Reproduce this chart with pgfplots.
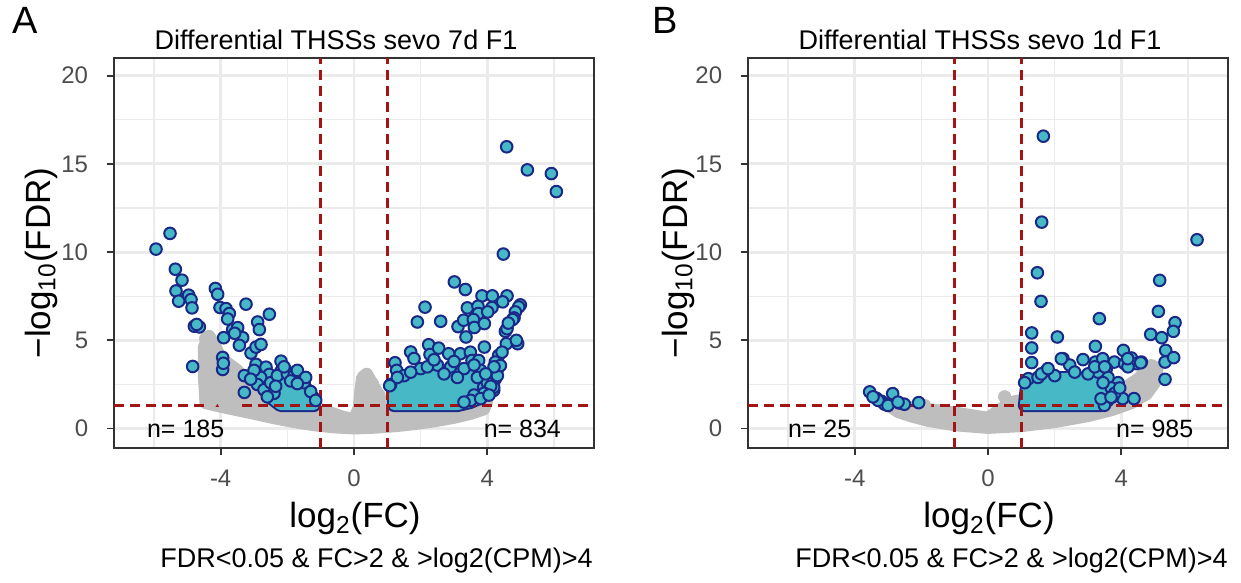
\documentclass[border=0pt]{standalone}
\usepackage{fontspec}
\setmainfont{Liberation Sans}
\usepackage{pgfplots}
\pgfplotsset{compat=1.18}

\definecolor{gridc}{HTML}{EBEBEB}
\definecolor{g20}{HTML}{333333}
\definecolor{g30}{HTML}{4D4D4D}
\definecolor{greypt}{HTML}{BEBEBE}
\definecolor{cyanc}{HTML}{46B8C6}
\definecolor{bluec}{HTML}{1A2888}
\definecolor{redc}{HTML}{A31515}

\tikzset{nlab/.style={font=\fontsize{12.5}{13}\selectfont}}

\pgfplotsset{
  volc/.style={
    width=240pt, height=195pt, scale only axis,
    xmin=-7.2, xmax=7.2, ymin=-1.1, ymax=21,
    xtick={-4,0,4}, ytick={0,5,10,15,20},
    minor xtick={-6,-2,2,6}, minor ytick={2.5,7.5,12.5,17.5},
    grid=both,
    major grid style={draw=gridc, line width=1.4pt},
    minor grid style={draw=gridc, line width=0.7pt},
    tick pos=left, tick align=outside,
    major tick length=3.75pt, minor tick length=0pt,
    tick style={draw=g20, line width=0.9pt},
    axis line style={draw=g20, line width=0.9pt},
    tick label style={font=\fontsize{12}{12}\selectfont, text=g30},
    /pgf/number format/assume math mode=true,
    xticklabel style={anchor=north, inner sep=0pt, yshift=-7pt},
    yticklabel style={anchor=east, inner sep=0pt, xshift=-9pt},
    clip=false,
  },
  greyarea/.style={fill=greypt, draw=greypt, line width=6.2pt, line join=round, line cap=round},
  blobout/.style={fill=bluec, draw=bluec, line width=6.8pt, line join=round, line cap=round},
  blobin/.style={fill=cyanc, draw=cyanc, line width=4.8pt, line join=round, line cap=round},
  sig/.style={only marks, mark=*, mark size=2.9pt, mark options={fill=cyanc, draw=bluec, line width=1pt}},
  cut/.style={redc, line width=1.3pt, dash pattern=on 5pt off 3pt},
}

\begin{document}
\begin{tikzpicture}
\useasboundingbox (0,0) rectangle (620.5pt,291.5pt);

% ---------------- panel A: sevo 7d ----------------
\begin{axis}[volc, at={(57pt,67.5pt)}, anchor=south west]
\addplot[greyarea] coordinates {
(-4.45,1.45) (-4.0,1.25) (-3.5,1.05) (-3.0,0.85) (-2.4,0.6) (-1.8,0.38) (-1.2,0.2) (-0.6,0.08)
(0,0.02) (0.6,0.06) (1.2,0.14) (1.8,0.26) (2.4,0.42) (3.0,0.62) (3.5,0.85) (3.9,1.1) (4.0,1.6)
(3.8,1.95) (3.0,1.6) (2.0,1.4) (1.2,1.2) (0.8,1.6) (0.65,2.2) (0.5,2.7) (0.38,3.1) (0.25,2.9)
(0.2,2.2) (0.15,1.2) (0.0,0.5) (-0.4,0.7) (-1.0,1.1) (-2.0,1.5) (-3.0,2.2) (-3.5,3.3) (-4.0,4.0)
(-4.2,4.8) (-4.35,5.25) (-4.5,4.6) (-4.5,3.0) (-4.45,1.45)};
\addplot[only marks, mark=*, mark size=3.1pt, greypt] coordinates {
(0.75,1.9) (0.55,2.55) (-4.3,1.5) (-3.9,1.5) (-3.6,1.45) (-4.45,5.1)};
% dense clusters of significant loci
\addplot[blobout] coordinates {
(1.2,1.32) (3.1,1.32) (3.5,1.5) (3.85,1.8) (3.95,2.3) (3.85,2.9) (3.5,3.15) (3.0,3.25)
(2.5,3.25) (2.0,3.05) (1.6,2.85) (1.3,2.55) (1.2,2.1) (1.2,1.32)};
\addplot[blobout] coordinates {
(-1.2,1.32) (-2.2,1.32) (-2.6,1.9) (-2.6,2.5) (-2.2,2.85) (-1.7,2.8) (-1.45,2.3) (-1.2,1.7) (-1.2,1.32)};
\addplot[blobin] coordinates {
(1.2,1.32) (3.1,1.32) (3.5,1.5) (3.85,1.8) (3.95,2.3) (3.85,2.9) (3.5,3.15) (3.0,3.25)
(2.5,3.25) (2.0,3.05) (1.6,2.85) (1.3,2.55) (1.2,2.1) (1.2,1.32)};
\addplot[blobin] coordinates {
(-1.2,1.32) (-2.2,1.32) (-2.6,1.9) (-2.6,2.5) (-2.2,2.85) (-1.7,2.8) (-1.45,2.3) (-1.2,1.7) (-1.2,1.32)};
% up
\addplot[sig] coordinates {
(4.58,15.97) (5.20,14.66) (5.92,14.45) (6.07,13.43) (4.48,9.89)
(3.01,8.31) (3.34,7.88) (3.84,7.52) (4.15,7.52) (4.59,7.52) (4.46,7.18) (4.99,7.01) (4.94,6.89)
(2.13,6.88) (3.40,6.84) (3.72,6.93) (4.14,6.86) (4.84,6.61) (4.80,6.27) (3.73,6.52) (4.01,6.61)
(1.90,6.04) (2.60,6.08) (3.12,5.78) (3.29,6.14) (3.58,6.18) (3.61,5.73) (3.91,5.95) (3.36,5.19)
(4.54,5.51) (4.59,5.66) (4.76,6.18) (4.63,5.98) (4.57,4.81) (4.91,4.81) (4.87,5.0)
(2.24,4.75) (2.28,4.2) (1.70,4.34) (1.80,3.97) (2.54,4.56) (2.84,4.24) (3.19,4.24) (3.49,4.33)
(3.54,3.86) (3.91,4.62) (3.74,3.86) (1.23,3.73) (1.28,3.30) (4.34,4.15) (4.44,4.33) (4.24,3.77)
(4.29,3.30) (4.24,2.82) (4.19,2.16) (4.3,3.0) (4.39,3.57) (4.19,2.34) (3.89,2.34)
(1.5,3.0) (2.0,3.4) (2.5,3.6) (2.9,3.5) (3.3,3.4) (3.8,3.3) (4.0,2.6) (4.1,2.4) (3.9,2.0)
(3.6,1.9) (3.5,1.6) (3.8,1.7) (3.3,1.5) (4.05,1.9) (1.1,2.5) (1.3,2.9) (1.7,3.2) (2.2,3.5)
(2.7,3.1) (3.1,2.9) (3.7,2.9) (4.2,3.5) (3.95,3.1) (3.6,3.6) (2.4,3.9) (3.0,3.8) (1.07,2.43)};
% down
\addplot[sig] coordinates {
(-5.94,10.17) (-5.52,11.06) (-5.36,9.03) (-5.16,8.41) (-5.34,7.80) (-5.26,7.22) (-4.96,7.56)
(-4.89,7.31) (-4.86,6.84) (-4.79,5.80) (-4.64,5.76) (-4.72,5.9) (-4.84,3.52) (-4.16,7.94)
(-4.09,7.61) (-4.02,6.86) (-3.84,6.80) (-3.74,6.52) (-3.79,6.21) (-3.24,7.05) (-3.91,5.15)
(-3.64,5.61) (-3.49,5.72) (-3.34,5.15) (-3.44,4.72) (-3.58,5.4) (-2.89,6.04) (-2.84,5.61)
(-2.54,6.48) (-3.94,4.03) (-3.94,3.35) (-3.92,3.7) (-3.29,3.0) (-3.29,2.05) (-3.09,4.28)
(-2.94,4.62) (-2.79,4.77) (-2.94,3.64) (-2.64,3.48) (-2.54,3.07) (-2.19,3.82) (-2.19,3.26)
(-2.04,3.30) (-2.8,2.9) (-2.9,2.5) (-2.7,2.2) (-2.5,2.6) (-2.3,3.0) (-2.0,3.1) (-1.8,3.0)
(-1.6,2.9) (-1.5,2.6) (-1.3,2.1) (-1.15,1.6) (-2.4,2.0) (-3.0,3.3) (-3.1,2.8) (-2.6,1.8)
(-1.9,2.7) (-1.7,3.3) (-2.1,3.5) (-1.45,2.9) (-1.7,2.55) (-2.35,2.4)};
\addplot[cut] coordinates {(-1,-1.1) (-1,21)};
\addplot[cut] coordinates {(1,-1.1) (1,21)};
\addplot[cut] coordinates {(-7.2,1.30103) (7.2,1.30103)};
\node[nlab] at (axis cs:-5.05,0) {n= 185};
\node[nlab] at (axis cs:5.05,0) {n= 834};
\end{axis}

% ---------------- panel B: sevo 1d ----------------
\begin{axis}[volc, at={(374pt,67.5pt)}, anchor=south west]
\addplot[greyarea] coordinates {
(-3.0,1.35) (-2.7,0.95) (-2.3,0.7) (-1.8,0.45) (-1.0,0.2) (0,0.05) (1.0,0.15) (2.0,0.38)
(3.0,0.72) (3.7,1.05) (4.3,1.45) (4.75,1.95) (5.0,2.6) (5.08,3.4) (4.9,3.6) (4.5,2.8)
(4.0,2.2) (3.0,1.8) (2.0,1.7) (1.0,1.6) (0.7,1.5) (0.3,1.0) (0,0.6) (-1.0,0.9) (-2.0,1.15)
(-2.8,1.3) (-3.0,1.35)};
\addplot[only marks, mark=*, mark size=3.1pt, greypt] coordinates {(0.5,1.8) (-1.9,1.3)};
\addplot[blobout] coordinates {
(1.1,1.32) (3.4,1.32) (3.6,1.6) (3.55,2.3) (3.2,2.7) (2.6,2.9) (2.0,2.85) (1.5,2.6) (1.15,2.2) (1.1,1.32)};
\addplot[blobin] coordinates {
(1.1,1.32) (3.4,1.32) (3.6,1.6) (3.55,2.3) (3.2,2.7) (2.6,2.9) (2.0,2.85) (1.5,2.6) (1.15,2.2) (1.1,1.32)};
% up
\addplot[sig] coordinates {
(1.66,16.57) (1.61,11.70) (6.27,10.70) (1.48,8.83) (1.59,7.21) (5.15,8.40) (5.11,6.64)
(3.34,6.23) (5.61,6.0) (5.56,5.51) (4.88,5.34) (5.21,5.15) (1.31,5.42) (2.08,5.19) (1.31,4.57)
(3.22,4.66) (4.06,4.43) (5.33,4.43) (5.31,3.77) (5.57,4.02) (5.31,2.79) (1.31,3.74) (2.25,3.96)
(2.45,3.6) (2.85,3.91) (3.22,3.77) (3.44,3.96) (3.79,3.77) (3.55,3.4) (4.3,4.0) (4.6,3.77)
(4.45,3.68) (4.1,3.68) (4.2,3.5) (1.21,2.83) (1.1,2.6) (1.76,3.30) (2.0,3.0) (4.04,1.70)
(4.38,1.70) (3.49,1.32) (3.74,1.80) (3.9,2.6) (3.6,2.9) (3.3,3.2) (3.0,3.1) (2.6,3.2) (1.5,2.9)
(3.7,2.3) (3.8,2.0) (3.95,2.3) (3.45,2.6) (4.19,3.96) (4.58,3.73) (3.39,1.69) (3.69,1.78)
(1.6,3.1) (1.8,3.4) (2.2,3.96) (3.2,3.5) (3.5,3.5)};
% down
\addplot[sig] coordinates {
(-3.55,2.08) (-3.35,1.72) (-3.2,1.55) (-3.1,1.38) (-3.3,1.6) (-2.86,1.98) (-2.66,1.45)
(-2.51,1.38) (-2.08,1.47) (-3.45,1.8) (-3.0,1.31) (-2.7,1.5)};
\addplot[cut] coordinates {(-1,-1.1) (-1,21)};
\addplot[cut] coordinates {(1,-1.1) (1,21)};
\addplot[cut] coordinates {(-7.2,1.30103) (7.2,1.30103)};
\node[nlab] at (axis cs:-5.05,0) {n= 25};
\node[nlab] at (axis cs:5.0,0) {n= 985};
\end{axis}

% ---------------- surrounding text ----------------
\node[anchor=base west, font=\fontsize{19}{19}\selectfont, inner sep=0pt] at (6pt,274.5pt) {A};
\node[anchor=base west, font=\fontsize{19}{19}\selectfont, inner sep=0pt] at (326pt,274.5pt) {B};
\node[anchor=base, font=\fontsize{13.5}{14}\selectfont, inner sep=0pt] at (168pt,266.5pt) {Differential THSSs sevo 7d F1};
\node[anchor=base, font=\fontsize{13.5}{14}\selectfont, inner sep=0pt] at (490pt,266.5pt) {Differential THSSs sevo 1d F1};
\node[rotate=90, font=\fontsize{17.5}{18}\selectfont, inner sep=0pt] at (20.5pt,160pt) {−log\textsubscript{10}(FDR)};
\node[rotate=90, font=\fontsize{17.5}{18}\selectfont, inner sep=0pt] at (339pt,160pt) {−log\textsubscript{10}(FDR)};
\node[anchor=base, font=\fontsize{17.5}{18}\selectfont, inner sep=0pt] at (177.5pt,27.5pt) {log\textsubscript{2}(FC)};
\node[anchor=base, font=\fontsize{17.5}{18}\selectfont, inner sep=0pt] at (494.5pt,27.5pt) {log\textsubscript{2}(FC)};
\node[anchor=base east, font=\fontsize{13.5}{14}\selectfont, inner sep=0pt] at (296.5pt,7.5pt) {FDR<0.05 \& FC>2 \& >log2(CPM)>4};
\node[anchor=base east, font=\fontsize{13.5}{14}\selectfont, inner sep=0pt] at (614pt,7.5pt) {FDR<0.05 \& FC>2 \& >log2(CPM)>4};
\end{tikzpicture}
\end{document}
